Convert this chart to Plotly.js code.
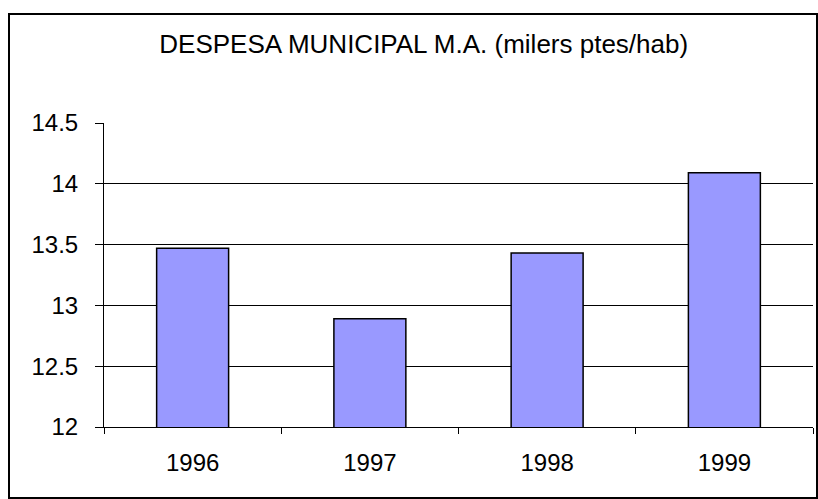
<!DOCTYPE html>
<html>
<head>
<meta charset="utf-8">
<script src="https://cdn.plot.ly/plotly-3.0.1.min.js"></script>
<style>
  html, body { margin: 0; padding: 0; background: #fff; }
  #wrap { position: relative; width: 818px; height: 499px; overflow: hidden; }
  #chart { width: 818px; height: 499px; }
  #frame { position: absolute; left: 8px; top: 13px; width: 810px; height: 486px; box-sizing: border-box; border: 2px solid #000; pointer-events: none; }
</style>
</head>
<body>
<div id="wrap">
  <div id="chart"></div>
  <div id="frame"></div>
</div>
<script>
const years = ['1996', '1997', '1998', '1999'];
const despesa = [13.47, 12.89, 13.43, 14.09];
const yTicks = [12, 12.5, 13, 13.5, 14, 14.5];
const yTickText = ['12', '12.5', '13', '13.5', '14', '14.5'];
const chartTitle = 'DESPESA MUNICIPAL M.A. (milers ptes/hab)';

const font = { family: 'Liberation Sans, Arial, sans-serif', size: 24, color: '#000' };

const data = [{
  type: 'bar',
  x: years,
  y: despesa,
  marker: { color: '#9999ff', line: { color: '#000', width: 1.5 } },
  hoverinfo: 'x+y'
}];

const layout = {
  width: 818,
  height: 499,
  margin: { l: 104, r: 5, t: 123, b: 72 },
  paper_bgcolor: '#fff',
  plot_bgcolor: '#fff',
  font: font,
  showlegend: false,
  bargap: 0.594,
  title: {
    text: chartTitle,
    font: { family: font.family, size: 26, color: '#000' },
    xref: 'container', x: 0.518, xanchor: 'center',
    yref: 'container', y: 0.912, yanchor: 'middle'
  },
  xaxis: {
    type: 'category',
    showline: true, linecolor: '#000', linewidth: 1,
    ticks: 'outside', tickson: 'boundaries', ticklen: 6, tickcolor: '#000', tickwidth: 1,
    showgrid: false, zeroline: false,
    ticklabelstandoff: 14,
    tickfont: font
  },
  yaxis: {
    range: [12, 14.5],
    tickvals: yTicks, ticktext: yTickText,
    showline: true, linecolor: '#000', linewidth: 1,
    ticks: 'outside', ticklen: 8, tickcolor: '#000', tickwidth: 1,
    showgrid: true, gridcolor: '#000', gridwidth: 1,
    zeroline: false,
    ticklabelstandoff: 12,
    tickfont: font
  }
};

Plotly.newPlot('chart', data, layout, { displayModeBar: false, staticPlot: true });
</script>
</body>
</html>
